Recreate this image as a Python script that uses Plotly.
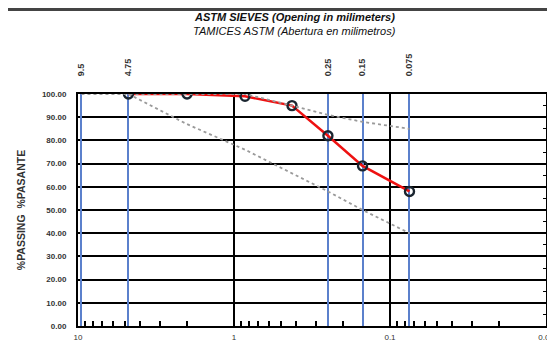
import plotly.graph_objects as go

# Data
sieve_mm = [4.75, 2.0, 0.85, 0.425, 0.25, 0.15, 0.075]
passing = [100.0, 100.0, 99.0, 95.0, 82.0, 69.0, 58.0]

upper_mm = [9.5, 4.75, 2.0, 0.85, 0.425, 0.25, 0.15, 0.075]
upper_lim = [100, 100, 100, 100, 95, 91, 88, 85]

lower_mm = [4.75, 2.0, 0.85, 0.425, 0.25, 0.15, 0.075]
lower_lim = [100, 87, 76, 66, 58, 50, 40]

top_ticks = [9.5, 4.75, 0.25, 0.15, 0.075]
top_labels = ["9.5", "4.75", "0.25", "0.15", "0.075"]

bottom_ticks = [10, 1, 0.1, 0.01]
bottom_labels = ["10", "1", "0.1", "0.01"]

y_ticks = [0, 10, 20, 30, 40, 50, 60, 70, 80, 90, 100]
right_minor = [5, 15, 25, 35, 45, 55, 65, 75, 85, 95]

minor_x = [m * d for d in (1, 0.1, 0.01) for m in (2, 3, 4, 5, 6, 7, 8, 9)]

FONT = "Liberation Sans"

fig = go.Figure()

fig.add_trace(go.Scatter(
    x=sieve_mm, y=passing, mode="lines+markers",
    line=dict(color="#ee1111", width=2.5),
    marker=dict(symbol="circle-open", size=9, color="#1a2530", line=dict(width=2.4)),
    showlegend=False, hoverinfo="skip"))

fig.add_trace(go.Scatter(
    x=upper_mm, y=upper_lim, mode="lines",
    line=dict(color="#9a9a9a", width=1.8, dash="dot"),
    showlegend=False, hoverinfo="skip"))

fig.add_trace(go.Scatter(
    x=lower_mm, y=lower_lim, mode="lines",
    line=dict(color="#9a9a9a", width=1.8, dash="dot"),
    showlegend=False, hoverinfo="skip"))

# invisible helpers for secondary axes
fig.add_trace(go.Scatter(x=[1], y=[50], xaxis="x2", yaxis="y", mode="markers",
                         marker=dict(opacity=0), showlegend=False, hoverinfo="skip"))
fig.add_trace(go.Scatter(x=[1], y=[50], xaxis="x", yaxis="y2", mode="markers",
                         marker=dict(opacity=0), showlegend=False, hoverinfo="skip"))

fig.update_layout(
    width=547, height=339,
    margin=dict(l=70, r=9, t=86, b=21),
    paper_bgcolor="white", plot_bgcolor="white",
    font=dict(family=FONT, color="#222"),
    xaxis=dict(
        type="log", range=[1, -2], automargin=False,
        tickvals=bottom_ticks, ticktext=bottom_labels,
        showgrid=True, gridcolor="black", gridwidth=1.5,
        showline=True, linecolor="black", linewidth=2,
        ticks="", ticklabelstandoff=2,
        tickfont=dict(size=8, family=FONT, color="#333"),
        minor=dict(tickvals=minor_x, ticks="inside", ticklen=5,
                   tickcolor="black", tickwidth=1.5, showgrid=False),
        zeroline=False,
    ),
    xaxis2=dict(
        type="log", range=[1, -2], overlaying="x", side="top", anchor="y",
        automargin=False,
        tickvals=top_ticks, ticktext=["<b>%s</b>" % t for t in top_labels], tickangle=-90,
        showgrid=True, gridcolor="#5b80cc", gridwidth=1.5,
        showline=True, linecolor="black", linewidth=2,
        ticks="", ticklabelstandoff=14,
        tickfont=dict(size=9, family=FONT, color="#333"),
        zeroline=False,
    ),
    yaxis=dict(
        range=[0, 100], tickvals=y_ticks, tickformat=".2f", automargin=False,
        showgrid=True, gridcolor="black", gridwidth=2,
        showline=True, linecolor="black", linewidth=2,
        ticks="", ticklabelstandoff=8,
        tickfont=dict(size=8, family=FONT, color="#333", weight="bold"),
        title=dict(text="<b>%PASSING  %PASANTE</b>", font=dict(size=10.5, family=FONT, color="#333"),
                   standoff=14),
        zeroline=False,
    ),
    yaxis2=dict(
        range=[0, 100], overlaying="y", side="right", anchor="x", automargin=False,
        tickvals=right_minor, ticks="inside", ticklen=3, tickcolor="black",
        showticklabels=False, showgrid=False,
        showline=True, linecolor="black", linewidth=2, zeroline=False,
    ),
    annotations=[
        dict(text="<b><i>ASTM SIEVES (Opening in milimeters)</i></b>",
             xref="paper", yref="paper", x=0.462, y=1.33, showarrow=False,
             font=dict(size=11, family=FONT, color="#111"), xanchor="center", yanchor="middle"),
        dict(text="<i>TAMICES ASTM (Abertura en milimetros)</i>",
             xref="paper", yref="paper", x=0.462, y=1.272, showarrow=False,
             font=dict(size=11, family=FONT, color="#111"), xanchor="center", yanchor="middle"),
    ],
    shapes=[
        dict(type="line", xref="paper", yref="paper", x0=-0.2, x1=1.05,
             y0=1.364, y1=1.364, line=dict(color="#444", width=3)),
    ],
)

fig.write_html("out.html")
